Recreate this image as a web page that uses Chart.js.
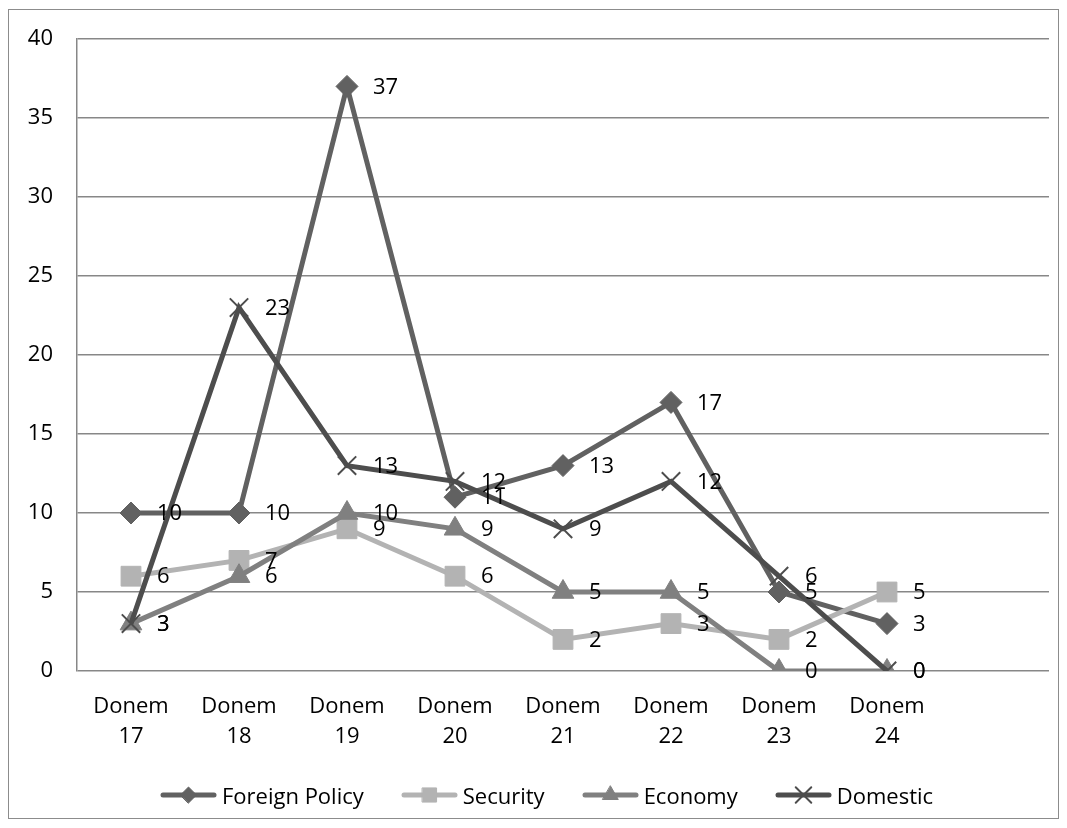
<!DOCTYPE html>
<html>
<head>
<meta charset="utf-8">
<script src="https://cdn.jsdelivr.net/npm/chart.js@4/dist/chart.umd.min.js"></script>
<style>
  body { margin: 0; background: #fff; font-family: "Open Sans", sans-serif; }
  #frame { position: absolute; left: 8px; top: 9px; width: 1049px; height: 808px; border: 1px solid #8c8c8c; }
  #wrap { position: absolute; left: 0; top: 0; width: 1067px; height: 828px; }
  #legend { position: absolute; left: 160px; top: 780px; display: flex; align-items: center; font-size: 22px; color: #000; }
  #legend .item { display: flex; align-items: center; margin-right: 37px; }
  #legend canvas { margin-right: 5px; }
</style>
</head>
<body>
<div id="frame"></div>
<div id="wrap"><canvas id="chart" width="1067" height="828"></canvas></div>
<div id="legend"></div>
<script>
// values
const categories = ['Donem 17', 'Donem 18', 'Donem 19', 'Donem 20', 'Donem 21', 'Donem 22', 'Donem 23', 'Donem 24'];
const foreignPolicy = [10, 10, 37, 11, 13, 17, 5, 3];
const security = [6, 7, 9, 6, 2, 3, 2, 5];
const economy = [3, 6, 10, 9, 5, 5, 0, 0];
const domestic = [3, 23, 13, 12, 9, 12, 6, 0];
const yTicks = [0, 5, 10, 15, 20, 25, 30, 35, 40];

const FONT = '"Open Sans", sans-serif';

const series = [
  { label: 'Foreign Policy', data: foreignPolicy, color: '#616161', style: 'rectRot', radius: 11, legendRadius: 8, border: 1, order: 4 },
  { label: 'Security', data: security, color: '#b3b3b3', style: 'rect', radius: 14, legendRadius: 10, border: 1, order: 3 },
  { label: 'Economy', data: economy, color: '#808080', style: 'triangle', radius: 12.5, legendRadius: 9, border: 1, order: 2 },
  { label: 'Domestic', data: domestic, color: '#4d4d4d', style: 'crossRot', radius: 13, legendRadius: 11, border: 2, order: 1 }
];

// Excel leaves one empty slot at the right end of the axis
const labels = categories.map(c => c.split(' ')).concat(['']);

const valueLabels = {
  id: 'valueLabels',
  afterDatasetsDraw(chart) {
    const ctx = chart.ctx;
    ctx.save();
    ctx.font = '22px ' + FONT;
    ctx.fillStyle = '#000';
    ctx.textAlign = 'left';
    ctx.textBaseline = 'middle';
    chart.data.datasets.forEach((ds, i) => {
      chart.getDatasetMeta(i).data.forEach((pt, j) => {
        const v = ds.data[j];
        if (v === null || v === undefined) return;
        ctx.fillText(String(v), pt.x + 26, pt.y + 1);
      });
    });
    ctx.restore();
  }
};

new Chart(document.getElementById('chart'), {
  type: 'line',
  data: {
    labels: labels,
    datasets: series.map(s => ({
      label: s.label,
      data: s.data,
      order: s.order,
      borderColor: s.color,
      backgroundColor: s.color,
      borderWidth: 5,
      tension: 0,
      pointStyle: s.style,
      pointRadius: s.radius,
      pointBackgroundColor: s.color,
      pointBorderColor: s.color,
      pointBorderWidth: s.border
    }))
  },
  options: {
    responsive: false,
    animation: false,
    events: [],
    layout: { padding: { left: 0, top: 39, right: 18, bottom: 0 } },
    plugins: { legend: { display: false }, tooltip: { enabled: false } },
    scales: {
      x: {
        offset: true,
        grid: { display: false, drawTicks: false },
        border: { display: false },
        ticks: { color: '#000', font: { family: FONT, size: 22, lineHeight: 1.4 }, padding: 20, maxRotation: 0, autoSkip: false },
        afterFit(scale) { scale.height = 157; }
      },
      y: {
        min: 0,
        max: 40,
        afterBuildTicks(scale) { scale.ticks = yTicks.map(v => ({ value: v })); },
        grid: { color: '#878787', lineWidth: 1.5, drawTicks: false },
        border: { display: true, color: '#878787', width: 1.5 },
        ticks: { color: '#000', font: { family: FONT, size: 22 }, padding: 24 },
        afterFit(scale) { scale.width = 77; }
      }
    }
  },
  plugins: [valueLabels]
});

// legend: line with marker, then the name
const legendBox = document.getElementById('legend');
series.forEach(s => {
  const item = document.createElement('div');
  item.className = 'item';
  const c = document.createElement('canvas');
  c.width = 57; c.height = 26;
  const g = c.getContext('2d');
  g.strokeStyle = s.color;
  g.fillStyle = s.color;
  g.lineWidth = 5;
  g.lineCap = 'round';
  g.beginPath(); g.moveTo(3, 13); g.lineTo(54, 13); g.stroke();
  g.lineWidth = s.border;
  if (Chart.helpers && Chart.helpers.drawPoint) {
    Chart.helpers.drawPoint(g, { pointStyle: s.style, radius: s.legendRadius, rotation: 0, borderWidth: s.border }, 28.5, 13);
  }
  const t = document.createElement('span');
  t.textContent = s.label;
  item.appendChild(c);
  item.appendChild(t);
  legendBox.appendChild(item);
});
</script>
</body>
</html>
